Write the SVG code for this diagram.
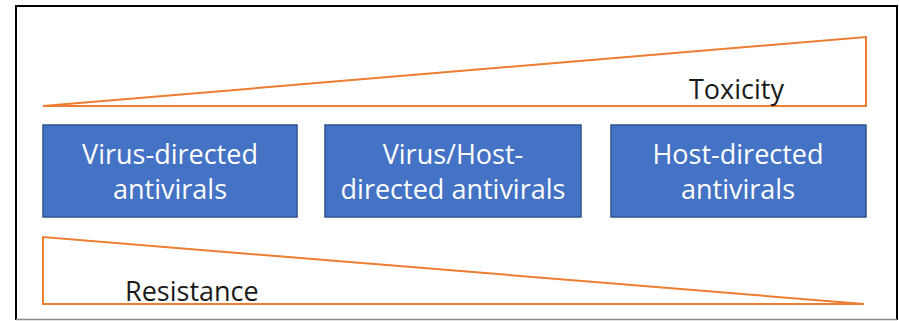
<svg xmlns="http://www.w3.org/2000/svg" width="899" height="321" viewBox="0 0 899 321">
<style>
.tri{fill:none;stroke:#ED7D31;stroke-width:2;stroke-linejoin:miter}
.box{fill:#4472C4;stroke:#2F528F;stroke-width:1.5}
.bt{font-family:"Open Sans","Liberation Sans",sans-serif;font-size:27px;fill:#FFFFFF;text-anchor:middle}
.lbl{font-family:"Open Sans","Liberation Sans",sans-serif;font-size:27px;fill:#1a1a1a}
</style>
<rect x="0" y="0" width="899" height="321" fill="#FFFFFF"/>
<path d="M16 320 V6 H897 V320" fill="none" stroke="#000" stroke-width="2"/>
<line x1="16" y1="319.5" x2="897" y2="319.5" stroke="#888" stroke-width="1.5"/>
<g id="toxicity">
<polygon class="tri" points="43,106 866,37 866,106"/>
<text class="lbl" x="689" y="99">Toxicity</text>
</g>
<g id="resistance">
<polygon class="tri" points="43,237 43,304 864,304"/>
<text class="lbl" x="125" y="301">Resistance</text>
</g>
<g id="virus-directed">
<rect class="box" x="43" y="125" width="254" height="92"/>
<text class="bt" x="170" y="164">Virus-directed</text>
<text class="bt" x="170" y="199">antivirals</text>
</g>
<g id="virus-host-directed">
<rect class="box" x="325" y="125" width="256" height="92"/>
<text class="bt" x="453" y="164">Virus/Host-</text>
<text class="bt" x="453" y="199">directed antivirals</text>
</g>
<g id="host-directed">
<rect class="box" x="611" y="125" width="255" height="92"/>
<text class="bt" x="738" y="164">Host-directed</text>
<text class="bt" x="738" y="199">antivirals</text>
</g>
<g id="connectors"></g>
</svg>
